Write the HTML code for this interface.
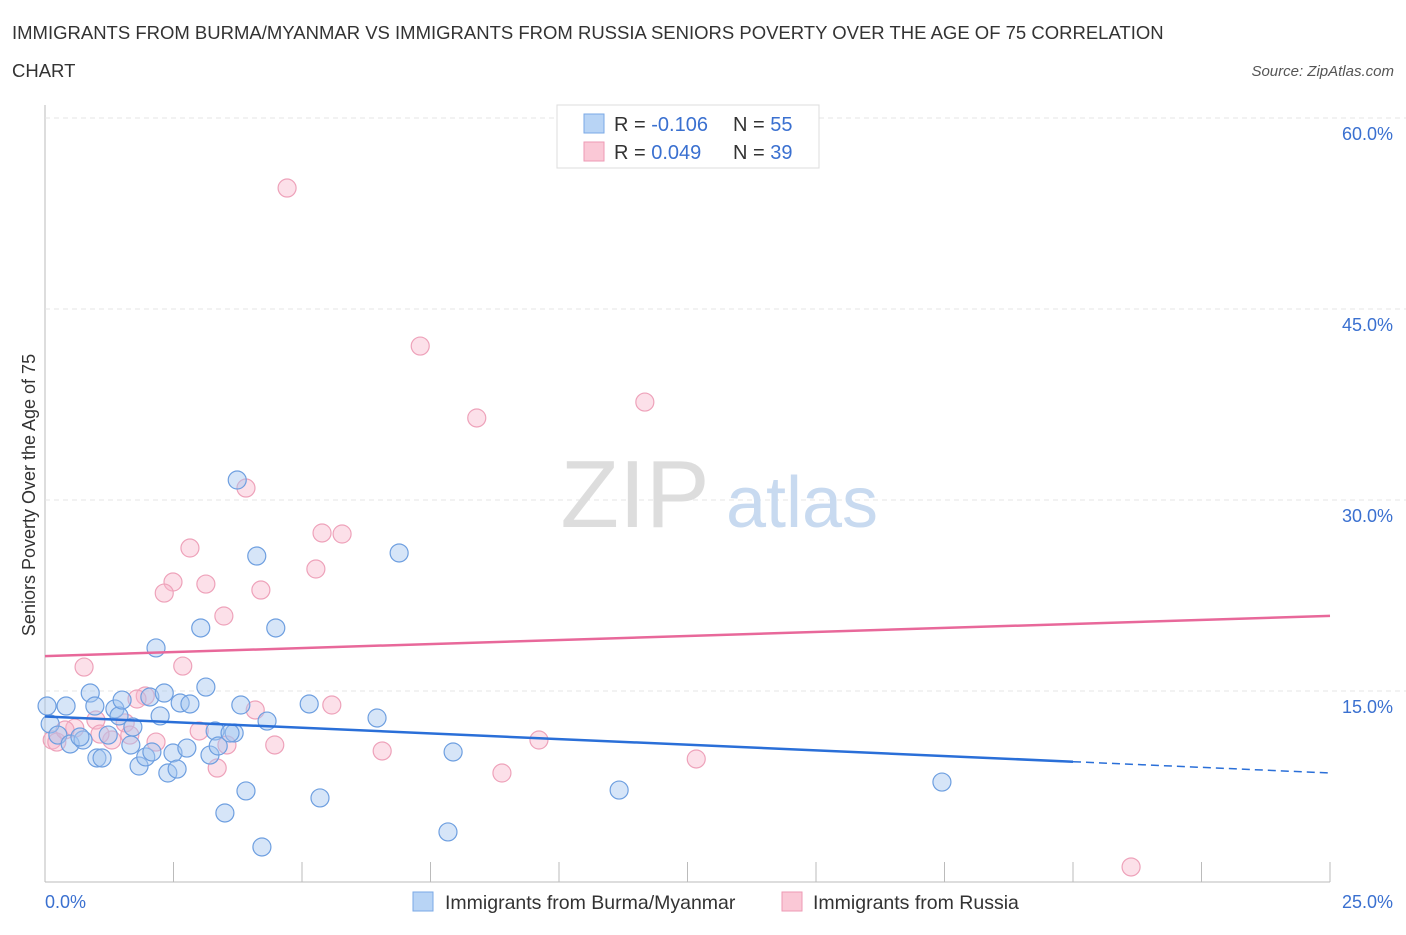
<!DOCTYPE html>
<html><head><meta charset="utf-8"><style>
body{margin:0;background:#fff;font-family:"Liberation Sans",sans-serif;}
svg text{font-family:"Liberation Sans",sans-serif;}
</style></head><body>
<svg width="1406" height="930" xmlns="http://www.w3.org/2000/svg" id="chart">
<text x="12" y="39" font-size="18.5" fill="#333">IMMIGRANTS FROM BURMA/MYANMAR VS IMMIGRANTS FROM RUSSIA SENIORS POVERTY OVER THE AGE OF 75 CORRELATION</text>
<text x="12" y="77" font-size="18.5" fill="#333">CHART</text>
<text x="1394" y="76" font-size="15" fill="#555" font-style="italic" text-anchor="end">Source: ZipAtlas.com</text>
<g id="grid"></g>
<text x="635" y="527" font-size="96" fill="#ddd" font-family="Liberation Serif" text-anchor="middle">ZIP</text>
<text x="802" y="527" font-size="72" fill="#c8daf0" text-anchor="middle">atlas</text>
<g id="points"></g>
<g id="trends"></g>
<text x="35" y="495" font-size="18" fill="#333" text-anchor="middle" transform="rotate(-90 35 495)">Seniors Poverty Over the Age of 75</text>
<g>
<rect x="557" y="105" width="262" height="63" fill="#fff" stroke="#ddd"/>
<rect x="584" y="114" width="20" height="19" fill="#b8d4f5" stroke="#7aa8e6"/>
<text x="614" y="131" font-size="20" fill="#333">R = <tspan fill="#3a70d0">-0.106</tspan></text>
<text x="733" y="131" font-size="20" fill="#333">N = <tspan fill="#3a70d0">55</tspan></text>
<rect x="584" y="142" width="20" height="19" fill="#fac8d6" stroke="#ee9ab4"/>
<text x="614" y="159" font-size="20" fill="#333">R = <tspan fill="#3a70d0"> 0.049</tspan></text>
<text x="733" y="159" font-size="20" fill="#333">N = <tspan fill="#3a70d0">39</tspan></text>
</g>
<g>
<rect x="413" y="892" width="20" height="19" fill="#b8d4f5" stroke="#7aa8e6"/>
<text x="445" y="909" font-size="19.5" fill="#333">Immigrants from Burma/Myanmar</text>
<rect x="782" y="892" width="20" height="19" fill="#fac8d6" stroke="#ee9ab4"/>
<text x="813" y="909" font-size="19.5" fill="#333">Immigrants from Russia</text>
</g>
</svg>
<script>
const yTicks=[15,30,45,60];
const yTickLabels=["15.0%","30.0%","45.0%","60.0%"];
const xTickLabels=["0.0%","25.0%"];
const blueX=[0.04,0.10,0.41,0.25,0.49,0.74,0.88,0.97,0.68,1.01,1.11,1.23,1.36,1.44,1.50,1.67,1.71,1.83,1.96,2.04,2.08,2.16,2.24,2.32,2.39,2.49,2.57,2.63,2.76,2.82,3.03,3.13,3.21,3.31,3.37,3.50,3.68,3.81,3.74,3.91,4.12,4.32,4.22,4.49,5.14,5.35,6.46,6.89,7.84,7.94,11.17,17.45,3.60];
const blueY=[13.82,12.41,13.82,11.54,10.84,11.15,14.84,13.82,11.39,9.74,9.74,11.54,13.59,13.04,14.29,10.76,12.17,9.11,9.82,14.53,10.21,18.38,13.04,14.84,8.56,10.13,8.87,14.06,10.52,13.98,19.95,15.31,9.97,11.86,10.68,5.42,11.70,13.90,31.57,7.15,25.60,12.64,2.75,19.95,13.98,6.60,12.88,25.84,3.93,10.21,7.22,7.85,11.70];
const pinkX=[4.71,7.30,8.40,11.67,3.91,5.39,5.78,2.82,5.27,2.49,3.13,4.20,2.32,3.48,0.76,2.68,1.95,1.79,5.58,4.09,0.99,1.56,0.58,0.14,0.23,1.30,1.07,2.16,3.00,3.54,4.47,6.56,9.61,3.35,8.89,12.67,21.13,0.39,1.65];
const pinkY=[54.50,42.09,36.44,37.69,30.94,27.41,27.33,26.23,24.58,23.56,23.40,22.93,22.69,20.89,16.88,16.96,14.61,14.37,13.90,13.51,12.72,12.49,12.09,11.15,10.99,11.15,11.62,10.99,11.86,10.76,10.76,10.29,11.15,8.95,8.56,9.66,1.18,11.94,11.54];
const blueTrend=[13.0,8.56];
const pinkTrend=[17.74,20.9];
const blueSolidEnd=20;

const X0=45,X1=1330,Y0=882,Y60=118;
const sx=v=>X0+(X1-X0)*v/25;
const sy=v=>Y0-(Y0-Y60)*v/60;
const NS="http://www.w3.org/2000/svg";
function mk(t,a,p){const e=document.createElementNS(NS,t);for(const k in a)e.setAttribute(k,a[k]);p.appendChild(e);return e;}
const grid=document.getElementById('grid');
const ax=mk('line',{x1:X0,y1:105,x2:X0,y2:Y0,stroke:'#bbb'},grid);


const bx=mk('line',{x1:X0,y1:Y0,x2:X1,y2:Y0,stroke:'#bbb'},grid);


yTicks.forEach((t,i)=>{
 const g=mk('line',{x1:X0,y1:sy(t),x2:1406,y2:sy(t),stroke:'#e4e4e4','stroke-dasharray':'5,4'},grid);
 
 
 const l=mk('text',{x:1393,y:sy(t)+22,'font-size':18,fill:'#3a70d0','text-anchor':'end'},grid);
 l.textContent=yTickLabels[i];
 
 
});
for(let i=0;i<=10;i++){
 const t=mk('line',{x1:sx(i*2.5),y1:Y0-20,x2:sx(i*2.5),y2:Y0,stroke:'#bbb'},grid);
 
 
}
[[0,'start',45],[25,'end',1393]].forEach((d,i)=>{
 const l=mk('text',{x:d[2],y:908,'font-size':18,fill:'#3a70d0','text-anchor':d[1]},grid);
 l.textContent=xTickLabels[i];
 
 
});
const pts=document.getElementById('points');
pinkX.forEach((x,i)=>{
 const c=mk('circle',{cx:sx(x),cy:sy(pinkY[i]),r:9,fill:'rgba(248,182,202,0.42)',stroke:'#eea2ba','stroke-width':1.2},pts);
 
 
});
blueX.forEach((x,i)=>{
 const c=mk('circle',{cx:sx(x),cy:sy(blueY[i]),r:9,fill:'rgba(165,198,240,0.45)',stroke:'#6e9fe0','stroke-width':1.2},pts);
 
 
});
const tr=document.getElementById('trends');
const by=x=>blueTrend[0]+(blueTrend[1]-blueTrend[0])*x/25;
const b1=mk('line',{x1:sx(0),y1:sy(by(0)),x2:sx(blueSolidEnd),y2:sy(by(blueSolidEnd)),stroke:'#2a6fd8','stroke-width':2.5},tr);


const b2=mk('line',{x1:sx(blueSolidEnd),y1:sy(by(blueSolidEnd)),x2:sx(25),y2:sy(by(25)),stroke:'#2a6fd8','stroke-width':1.5,'stroke-dasharray':'8,5'},tr);


const p1=mk('line',{x1:sx(0),y1:sy(pinkTrend[0]),x2:sx(25),y2:sy(pinkTrend[1]),stroke:'#e8689a','stroke-width':2.5},tr);


</script>
</body></html>
